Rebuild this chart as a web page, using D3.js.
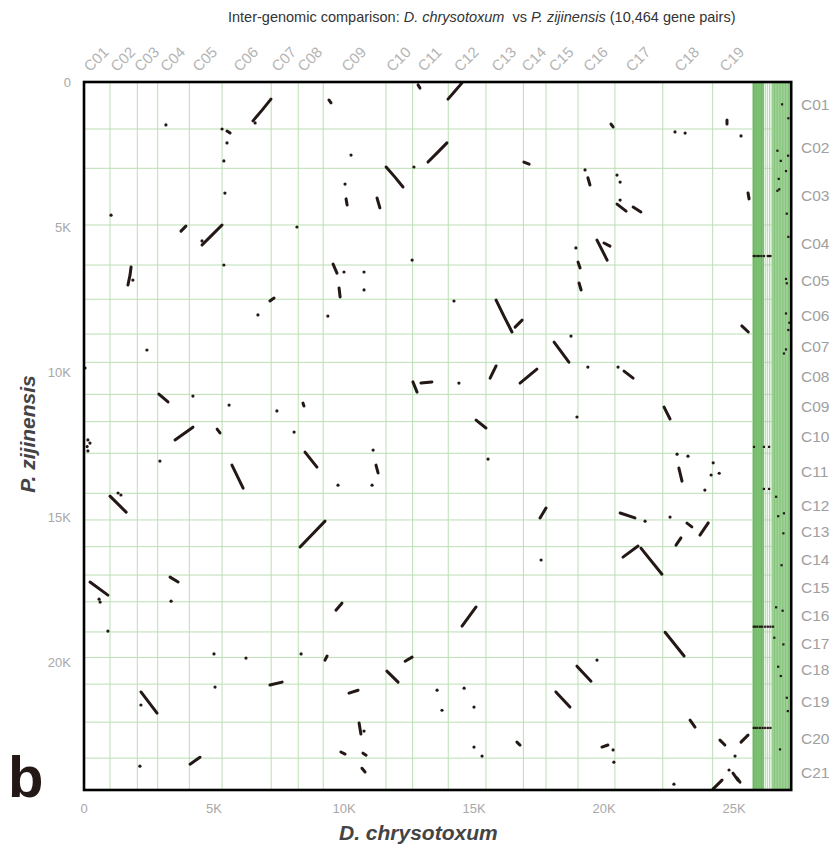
<!DOCTYPE html>
<html><head><meta charset="utf-8">
<script src="https://cdn.jsdelivr.net/npm/d3@7"></script>
<style>body{margin:0;background:#fff;} svg{display:block;font-family:Arial,"Liberation Sans",sans-serif;}</style>
</head><body><svg id="c" width="839" height="850"></svg>
<script>
// ---- data (gene index, thousands) ----
const xChroms = ["C01","C02","C03","C04","C05","C06","C07","C08","C09","C10","C11","C12","C13","C14","C15","C16","C17","C18","C19"];
const xBounds = [0,1.0,2.05,2.835,4.05,5.31,7.2,8.24,9.2,11.615,12.64,14.01,15.46,16.9,17.77,19.0,20.42,22.26,24.18,25.72];
const yChroms = ["C01","C02","C03","C04","C05","C06","C07","C08","C09","C10","C11","C12","C13","C14","C15","C16","C17","C18","C19","C20","C21"];
const yBounds = [0,1.62,2.976,4.93,6.31,7.49,8.69,9.666,10.77,11.71,12.80,14.18,15.10,16.02,17.0,17.92,18.96,19.84,20.76,22.07,23.31,24.41];
const xMax = 27.2;
const scaffoldBounds = [25.75,25.8,25.86,25.93,26.0,26.06,26.12,26.2,26.28,26.36,26.43,26.5,26.56,26.62,26.68,26.74,26.8,26.86,26.92,26.98,27.04,27.1,27.15];
const scaffoldShaded = [[25.72,26.15],[26.46,27.2]];
const xTicks = [0,5,10,15,20,25];
const yTicks = [0,5,10,15,20];
const tickLabels = ["0","5K","10K","15K","20K","25K"];

const blocks = [
 [[7.19,0.59],[6.85,0.97],[6.5,1.34]],[[6.58,1.41]],
 [[9.42,0.62],[9.5,0.72]],[[12.85,0.1],[12.92,0.21]],
 [[14.54,0.03],[14.27,0.31],[14.0,0.59]],
 [[3.15,1.48]],[[5.31,1.62]],[[5.5,1.69],[5.62,1.76]],[[5.5,2.1]],[[5.38,2.72]],[[5.42,3.83]],
 [[1.04,4.59]],[[3.92,4.97],[3.73,5.14]],[[5.31,4.93],[4.92,5.28],[4.54,5.62]],[[4.54,5.48]],[[8.19,5.0]],
 [[20.27,1.45],[20.35,1.55]],[[22.73,1.72]],[[23.12,1.76]],[[24.73,1.31],[24.73,1.45]],[[25.27,1.86]],
 [[13.96,2.1],[13.62,2.41],[13.23,2.76]],[[10.27,2.52]],[[16.92,2.76],[17.12,2.83]],[[19.27,3.03]],[[19.38,3.3],[19.46,3.55]],
 [[12.69,2.93]],[[11.62,2.93],[11.96,3.28],[12.27,3.62]],[[10.04,3.52]],[[10.08,4.03],[10.12,4.24]],[[11.27,4.0],[11.38,4.34]],
 [[15.85,7.52],[16.15,8.07],[16.46,8.62]],[[16.58,8.45],[16.85,8.21]],
 [[18.08,8.97],[18.65,9.66]],[[18.73,8.76]],
 [[15.85,9.79],[15.62,10.21]],[[16.77,10.38],[17.42,9.9]],
 [[12.65,10.34],[12.81,10.69]],[[12.96,10.38],[13.38,10.34]],[[14.42,10.38]],[[19.38,9.83]],[[20.54,9.83]],[[20.77,9.97],[21.12,10.21]],
 [[22.31,11.21],[22.54,11.62]],[[15.08,11.66],[15.46,11.93]],[[18.96,11.55]],[[15.54,13.0]],
 [[2.88,10.76],[3.23,11.03]],[[3.5,12.34],[4.19,11.9]],[[4.19,10.83]],[[5.58,11.14]],[[5.12,11.97],[5.23,12.1]],[[7.42,11.34]],[[8.42,11.07],[8.46,11.17]],[[8.08,12.07]],
 [[5.69,13.21],[6.12,14.0]],[[8.5,12.76],[8.96,13.28]],[[9.77,13.9]],[[11.12,12.69]],[[11.23,13.21],[11.31,13.48]],[[11.08,13.9]],[[2.92,13.07]],
 [[9.27,15.14],[8.31,16.03]],[[3.31,17.07],[3.62,17.24]],[[3.35,17.9]],[[9.92,17.97],[9.69,18.21]],[[15.08,18.1],[14.54,18.76]],
 [[22.35,18.97],[23.08,19.79]],[[20.62,14.86],[21.19,15.03]],[[21.58,15.14]],[[22.54,15.0]],
 [[21.31,16.0],[20.73,16.38]],[[21.42,16.07],[22.23,16.97]],[[22.96,15.72],[22.77,15.97]],[[23.19,15.21],[23.38,15.34]],
 [[17.77,14.69],[17.54,15.03]],[[17.58,16.48]],[[24.12,13.55]],[[23.88,14.07]],
 [[22.81,12.83]],[[22.88,13.31],[23.0,13.76]],[[23.23,12.9]],
 [[9.35,19.79],[9.27,19.93]],[[8.35,19.72]],[[5.0,19.72]],[[6.23,19.86]],[[5.04,20.86]],[[7.15,20.79],[7.62,20.69]],
 [[2.19,21.03],[2.81,21.76]],[[2.19,21.48]],[[10.54,20.97],[10.19,21.07]],[[11.65,20.31],[12.08,20.69]],[[12.35,19.97],[12.62,19.83]],
 [[10.58,22.1],[10.65,22.48]],[[10.77,22.38]],[[14.62,20.9]],[[15.0,21.55]],[[13.58,20.97]],[[13.77,21.66]],
 [[18.15,21.03],[18.69,21.55]],[[18.96,20.14],[19.5,20.66]],[[19.73,19.93]],[[23.31,22.0],[23.5,22.24]],
 [[25.54,22.52],[25.27,22.76]],[[24.46,22.69],[24.65,22.86]],[[25.04,23.24]],[[24.81,23.72]],[[24.96,23.83],[25.15,24.07]],[[25.12,24.0],[25.23,24.14]],
 [[24.19,24.38],[24.54,24.07]],[[22.69,24.21]],[[19.92,22.93],[20.15,22.86]],[[20.35,23.03]],[[20.38,23.45]],
 [[15.0,22.93]],[[15.31,23.24]],[[16.65,22.76],[16.77,22.86]],[[2.15,23.59]],[[4.08,23.52],[4.46,23.28]],
 [[9.88,23.1],[10.04,23.17]],[[10.73,23.14],[10.85,23.21]],[[10.69,23.66],[10.81,23.79]],
 [[0.04,9.86]],[[0.15,12.34]],[[0.23,12.45]],[[0.12,12.57]],[[0.15,12.72]],
 [[0.23,17.24],[0.92,17.69]],[[0.58,17.83]],[[0.62,17.93]],[[0.92,18.93]],
 [[1.0,14.28],[1.62,14.83]],[[1.31,14.17]],[[1.42,14.24]],
 [[1.81,6.38],[1.77,6.66],[1.69,7.0]],[[1.88,6.83]],[[2.42,9.24]],[[5.38,6.31]],
 [[9.58,6.28],[9.73,6.59]],[[10.0,6.55]],[[10.77,6.55]],[[9.81,7.1],[9.85,7.41]],[[10.77,7.17]],[[12.62,6.14]],
 [[20.5,4.21],[20.85,4.45]],[[21.12,4.31],[21.42,4.48]],[[20.62,4.07]],[[20.5,3.21]],[[20.62,3.45]],
 [[19.73,5.45],[20.12,6.14]],[[20.0,5.55],[20.23,5.66]],[[18.92,5.72]],[[19.0,6.21],[19.08,6.41]],[[19.04,6.93],[19.12,7.17]],
 [[7.15,7.55],[7.31,7.45]],[[6.69,8.03]],[[9.38,8.07]],[[14.23,7.55]],
 [[25.54,3.83],[25.58,4.03]],[[25.3,8.41],[25.55,8.62]],[[24.2,13.13]],[[24.43,13.49]],[[23.69,15.62],[24.01,15.2]]
];
// hits on unplaced scaffolds
const scaffoldHits = [[26.85,0.77],[27.09,1.25],[26.67,2.37],[26.8,2.72],[27.08,2.54],[27.0,3.07],[26.72,3.34],[26.67,3.75],[26.74,3.7],[27.03,4.54],[27.09,5.34],
 [27.0,6.79],[27.03,6.94],[27.0,7.98],[27.13,8.3],[27.09,8.55],[27.0,9.22],[26.92,9.36],
 [25.77,12.58],[26.15,12.58],[26.35,12.58],[26.15,14.03],[26.35,14.03],[26.62,14.3],[26.7,14.97],[26.92,14.87],[26.9,15.56],
 [26.83,16.66],[26.62,18.11],[26.87,18.23],[26.55,19.16],[26.9,19.39],[26.7,20.16],[26.8,20.48],[27.03,21.23],[27.07,21.69],[26.77,23.01],
 [25.76,6.0],[25.8,6.0],[25.9,6.0],[25.95,6.0],[26.05,6.0],[26.15,6.0],[26.3,6.0],[26.35,6.0],[26.4,6.0],
 [25.76,18.78],[25.82,18.78],[25.9,18.78],[26.0,18.78],[26.08,18.78],[26.2,18.78],[26.3,18.78],[26.4,18.78],[26.5,18.78],
 [25.76,22.27],[25.82,22.27],[25.9,22.27],[26.0,22.27],[26.1,22.27],[26.2,22.27],[26.3,22.27],[26.4,22.27]];

// ---- drawing ----
const svg = d3.select("#c");
const L=84, R=791.2, T=82, B=790;
const x = d3.scaleLinear().domain([0,xMax]).range([L,R]);
const y = d3.scaleLinear().domain([0,yBounds[yBounds.length-1]]).range([T,B]);
const gridColor = "#bbdfb4";
const dotColor = "#231815";

// grid
svg.append("g").selectAll("line").data(xBounds.slice(1)).join("line")
  .attr("x1",d=>x(d)).attr("x2",d=>x(d)).attr("y1",T).attr("y2",B)
  .attr("stroke",gridColor).attr("stroke-width",1);
svg.append("g").selectAll("line").data(yBounds.slice(1,-1)).join("line")
  .attr("x1",L).attr("x2",R).attr("y1",d=>y(d)).attr("y2",d=>y(d))
  .attr("stroke",gridColor).attr("stroke-width",1);

// scaffold band
const band = svg.append("g");
band.selectAll("rect").data(scaffoldShaded).join("rect")
  .attr("x",d=>x(d[0])).attr("y",T).attr("width",d=>x(d[1])-x(d[0])).attr("height",B-T)
  .attr("fill",(d,i)=>i===0?"#8fca87":"#b3dcac");
band.selectAll("line").data(scaffoldBounds).join("line")
  .attr("x1",d=>x(d)).attr("x2",d=>x(d)).attr("y1",T).attr("y2",B)
  .attr("stroke",d=>d<26.15?"#6db664":(d<26.46?"#a9d6a1":"#84c47a")).attr("stroke-width",1);

// dots / blocks
const line = d3.line().x(d=>x(d[0])).y(d=>y(d[1]));
const g = svg.append("g");
blocks.forEach(b=>{
  if(b.length>1){
    g.append("path").attr("d",line(b)).attr("fill","none").attr("stroke",dotColor).attr("stroke-width",3).attr("stroke-linecap","round");
  } else {
    g.append("circle").attr("cx",x(b[0][0])).attr("cy",y(b[0][1])).attr("r",1.6).attr("fill",dotColor);
  }
});
g.selectAll("rect.h").data(scaffoldHits).join("rect").attr("class","h")
  .attr("x",d=>x(d[0])-1.1).attr("y",d=>y(d[1])-1.1).attr("width",2.2).attr("height",2.2).attr("fill",dotColor);

// frame
svg.append("rect").attr("x",L).attr("y",T).attr("width",R-L).attr("height",B-T)
  .attr("fill","none").attr("stroke","#000").attr("stroke-width",2.6);

// axis tick labels
svg.append("g").selectAll("text").data(xTicks).join("text")
  .attr("x",d=>x(d)).attr("y",813).attr("text-anchor","middle")
  .attr("font-size",13).attr("fill","#a8a8a8").text((d,i)=>tickLabels[i]);
svg.append("g").selectAll("text").data(yTicks).join("text")
  .attr("x",71).attr("y",d=>y(d)+4.5).attr("text-anchor","end")
  .attr("font-size",13).attr("fill","#a8a8a8").text((d,i)=>tickLabels[i]);

// chromosome labels
svg.append("g").selectAll("text").data(xChroms).join("text")
  .attr("transform",(d,i)=>`translate(${(x(xBounds[i])+x(xBounds[i+1]))/2},60) rotate(-45)`)
  .attr("text-anchor","middle").attr("dominant-baseline","middle")
  .attr("font-size",15).attr("fill","#b4b4b4").text(d=>d);
svg.append("g").selectAll("text").data(yChroms).join("text")
  .attr("x",801).attr("y",(d,i)=>(y(yBounds[i])+y(yBounds[i+1]))/2)
  .attr("dominant-baseline","middle")
  .attr("font-size",15.5).attr("fill","#a0a0a0").text(d=>d);

// titles
const t = svg.append("text").attr("x",228).attr("y",22).attr("font-size",14.5).attr("fill","#333");
t.append("tspan").text("Inter-genomic comparison: ");
t.append("tspan").attr("font-style","italic").text("D. chrysotoxum");
t.append("tspan").text("\u00a0 vs ");
t.append("tspan").attr("font-style","italic").text("P. zijinensis");
t.append("tspan").text(" (10,464 gene pairs)");

svg.append("text").attr("x",(x(0)+x(xBounds[xBounds.length-1]))/2).attr("y",840)
  .attr("text-anchor","middle").attr("font-size",21).attr("font-weight","bold").attr("font-style","italic")
  .attr("fill","#444").text("D. chrysotoxum");
svg.append("text").attr("transform","translate(35,434) rotate(-90)")
  .attr("text-anchor","middle").attr("font-size",21).attr("font-weight","bold").attr("font-style","italic")
  .attr("fill","#444").text("P. zijinensis");
svg.append("text").attr("x",8).attr("y",797).attr("font-size",58).attr("font-weight","bold")
  .attr("fill","#231815").text("b");
</script></body></html>
